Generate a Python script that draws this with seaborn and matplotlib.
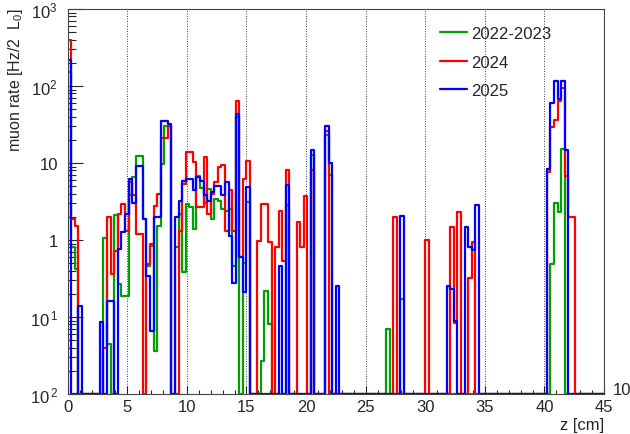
import numpy as np
import pandas as pd
import matplotlib
matplotlib.use("Agg")
import matplotlib.pyplot as plt
import matplotlib.ticker as mticker
import seaborn as sns

# =========================
# DATA: muon rate per 0.3 cm bin, z from 0 to 45 cm (0 = empty bin)
# =========================

z_min = 0.0
z_max = 45.0
n_bins = 150

rate_2022_2023 = [
    150, 0.8, 0.42, 0, 0, 0, 0, 0, 0, 0,
    1.05, 0.044, 0, 2.1, 0.27, 0.19, 0.19, 3.8, 6.6, 12.4,
    12.4, 1.9, 0.46, 0.84, 0.036, 1.5, 9.7, 30, 30, 0,
    0.81, 2.2, 0.38, 2.9, 2.65, 1.4, 6.8, 4.8, 3.0, 4.6,
    1.9, 3.4, 3.2, 2.5, 2.4, 2.5, 0.46, 40, 0, 0.5,
    3.1, 0, 0, 0, 0.027, 0.22, 0.08, 0, 0, 0,
    0, 2.85, 0, 0, 0, 0, 0, 0, 12.7, 0,
    0, 0, 23, 7.0, 0, 0, 0, 0, 0, 0,
    0, 0, 0, 0, 0, 0, 0, 0, 0, 0.07,
    0, 0, 0, 0.17, 0, 0, 0, 0, 0, 0,
    0, 0, 0, 0, 0, 0, 0, 0, 0, 0,
    0, 0, 0, 0, 0, 0, 0, 0, 0, 0,
    0, 0, 0, 0, 0, 0, 0, 0, 0, 0,
    0, 0, 0, 0, 0, 0.49, 3.0, 2.33, 15.2, 0,
    0, 0, 0, 0, 0, 0, 0, 0, 0, 0,
]

rate_2024 = [
    400, 1.9, 1.5, 0, 0, 0, 0, 0, 0, 0,
    0.04, 2.0, 0.36, 0.73, 2.2, 2.9, 1.3, 5.6, 3.8, 1.2,
    1.2, 0, 0.49, 0.89, 2.8, 4.0, 21, 21, 30, 0,
    0, 1.3, 5.3, 13.8, 13.8, 10.2, 2.7, 2.7, 11.8, 2.2,
    4.0, 5.6, 9.0, 9.3, 1.3, 4.4, 1.3, 64, 0.6, 6.2,
    10.7, 0, 0, 0.98, 2.9, 2.9, 0.93, 0, 0.8, 2.4,
    0.54, 8.2, 0, 0, 1.7, 0.8, 3.7, 0, 8.2, 0,
    0, 0, 26, 0, 0, 0, 0, 0, 0, 0,
    0, 0, 0, 0, 0, 0, 0, 0, 0, 0,
    0, 1.97, 0, 0, 0, 0, 0, 0, 0, 0,
    1.0, 0, 0, 0, 0, 0, 0, 1.49, 0.084, 2.33,
    0, 0, 0.32, 0.93, 0, 0, 0, 0, 0, 0,
    0, 0, 0, 0, 0, 0, 0, 0, 0, 0,
    0, 0, 0, 0, 7.7, 29, 36, 64, 93, 6.8,
    2.0, 2.0, 0, 0, 0, 0, 0, 0, 0, 0,
]

rate_2025 = [
    220, 0, 0, 0.14, 0, 0, 0, 0, 0, 0.086,
    0, 0.16, 0.16, 0, 0.76, 1.27, 2.2, 6.2, 3.0, 9.2,
    9.2, 1.9, 0.34, 0.066, 2.0, 2.0, 35, 35, 32, 0,
    2.0, 3.2, 5.9, 6.2, 6.2, 4.5, 6.5, 5.9, 3.8, 3.2,
    4.2, 5.1, 5.1, 3.8, 5.6, 1.14, 0.28, 43, 0.6, 0.21,
    4.9, 0, 0, 0, 0, 0, 0, 0, 0, 0.46,
    0, 5.2, 0, 0, 0, 0, 0, 0, 14.9, 0,
    0, 0, 30.5, 9.9, 0, 0.25, 0, 0, 0, 0,
    0, 0, 0, 0, 0, 0, 0, 0, 0, 0,
    0, 0, 0, 2.07, 0, 0, 0, 0, 0, 0,
    0, 0, 0, 0, 0, 0, 0.25, 0.23, 0.09, 0,
    0, 1.46, 0.8, 0.75, 2.85, 0, 0, 0, 0, 0,
    0, 0, 0, 0, 0, 0, 0, 0, 0, 0,
    0, 0, 0, 0, 8.4, 61, 116, 68, 116, 14.9,
    0, 0, 0, 0, 0, 0, 0, 0, 0, 0,
]

series_labels = ["2022-2023", "2024", "2025"]
series_colors = ["#00a000", "#ff0000", "#0000ff"]

y_min = 1e-2
y_max = 1e3
y_tick_values = [1e-2, 1e-1, 1, 10, 1e2, 1e3]
y_tick_labels = [r"$\mathregular{10^{\,2}}$", r"$\mathregular{10^{\,1}}$", "1", "10",
                 r"$\mathregular{10^{2}}$", r"$\mathregular{10^{3}}$"]

# =========================
# STYLE
# =========================

sns.set_style("ticks")
plt.rcParams["font.family"] = ["Liberation Sans", "DejaVu Sans"]
plt.rcParams["mathtext.fontset"] = "custom"
plt.rcParams["mathtext.rm"] = "Liberation Sans"

bin_width = (z_max - z_min) / n_bins
centers = z_min + bin_width * (np.arange(n_bins) + 0.5)

fig = plt.figure(figsize=(6.3, 4.35), dpi=100)
ax = fig.add_axes([0.1075, 0.092, 0.8513, 0.885])

# =========================
# HISTOGRAMS (empty bins drawn on the bottom of the frame)
# =========================

for values, label, color in zip([rate_2022_2023, rate_2024, rate_2025],
                                series_labels, series_colors):
    df = pd.DataFrame({"z": centers, "rate": values})
    df["rate"] = df["rate"].where(df["rate"] > 0, y_min)
    sns.histplot(data=df, x="z", weights="rate", bins=n_bins, binrange=(z_min, z_max),
                 element="step", fill=False, color=color, linewidth=1.6,
                 label=label, ax=ax)

ax.set_yscale("log")
ax.set_xlim(z_min, z_max)
ax.set_ylim(y_min, y_max)

# =========================
# AXES
# =========================

ax.xaxis.set_major_locator(mticker.MultipleLocator(5))
ax.xaxis.set_minor_locator(mticker.MultipleLocator(1))
ax.yaxis.set_major_locator(mticker.FixedLocator(y_tick_values))
ax.yaxis.set_major_formatter(mticker.FixedFormatter(y_tick_labels))
ax.yaxis.set_minor_locator(mticker.LogLocator(base=10, subs=np.arange(2, 10)))
ax.yaxis.set_minor_formatter(mticker.NullFormatter())

ax.tick_params(axis="x", which="major", direction="in", length=6, width=0.8,
               labelsize=12, pad=3.5, top=False)
ax.tick_params(axis="x", which="minor", direction="in", length=3, width=0.8, top=False)
ax.tick_params(axis="y", which="major", direction="in", length=11, width=0.8,
               labelsize=12, pad=7, right=False)
ax.tick_params(axis="y", which="minor", direction="in", length=5.5, width=0.8, right=False)

ax.xaxis.grid(True, which="major", linestyle=(0, (1, 2)), color="black", linewidth=0.6)
ax.set_axisbelow(True)

for side in ["left", "bottom", "top", "right"]:
    ax.spines[side].set_visible(True)
    ax.spines[side].set_linewidth(0.8)
    ax.spines[side].set_color("#444444")

ax.set_xlabel("z [cm]", loc="right", fontsize=12, labelpad=2)
ax.set_ylabel(r"muon rate [Hz/2  L$\mathregular{_0}$]", loc="top", fontsize=11.5)
ax.yaxis.set_label_coords(-0.079, 1.005)

fig.text(0.973, 0.103, "10", fontsize=12, ha="left", va="center")

ax.legend(loc="upper left", bbox_to_anchor=(0.694, 0.955), frameon=False,
          fontsize=12, handlelength=1.6, handletextpad=0.3, labelspacing=0.8,
          borderpad=0, borderaxespad=0)

plt.savefig("out.png", dpi=100)
